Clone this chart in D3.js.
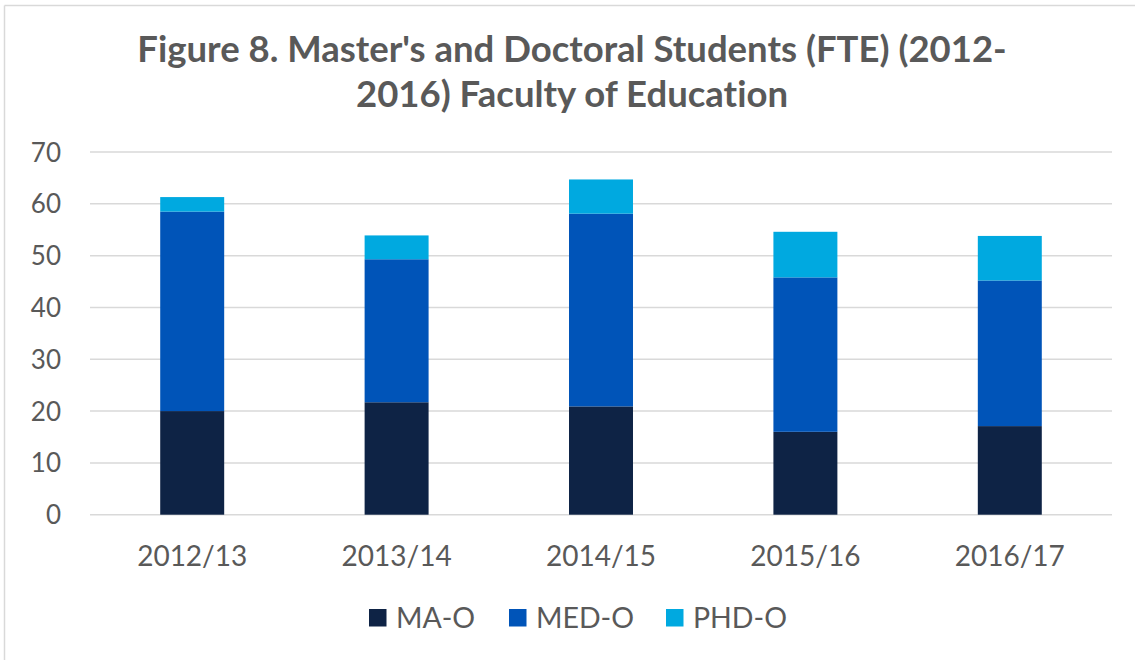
<!DOCTYPE html>
<html>
<head>
<meta charset="utf-8">
<script src="https://cdn.jsdelivr.net/npm/d3@7"></script>
<style>
  html, body { margin: 0; padding: 0; background: #fff; }
  svg { display: block; }
  text { font-family: Lato, "Open Sans", sans-serif; fill: #595959; font-variant-ligatures: none; font-feature-settings: "liga" 0, "clig" 0; }
</style>
</head>
<body>
<svg id="chart" width="1135" height="660"></svg>
<script>
const categories = ["2012/13", "2013/14", "2014/15", "2015/16", "2016/17"];
const seriesNames = ["MA-O", "MED-O", "PHD-O"];
const maValues  = [20.0, 21.7, 20.9, 16.0, 17.1];
const medValues = [38.5, 27.6, 37.2, 29.8, 28.1];
const phdValues = [2.8, 4.6, 6.6, 8.8, 8.6];
const yTicks = [0, 10, 20, 30, 40, 50, 60, 70];
const titleLines = ["Figure 8. Master's and Doctoral Students (FTE) (2012-", "2016) Faculty of Education"];
const colors = ["#0E2345", "#0054B8", "#00A9E0"];

const svg = d3.select("#chart");

// chart border (partially visible)
svg.append("line").attr("x1", 4.5).attr("x2", 1135).attr("y1", 5.5).attr("y2", 5.5)
  .attr("stroke", "#D9D9D9").attr("stroke-width", 1.5);
svg.append("line").attr("x1", 4.5).attr("x2", 4.5).attr("y1", 5.5).attr("y2", 660)
  .attr("stroke", "#D9D9D9").attr("stroke-width", 1.5);

// title
svg.append("text").attr("x", 572).attr("y", 62).attr("text-anchor", "middle")
  .attr("font-size", 36.5).attr("font-weight", 700).text(titleLines[0]);
svg.append("text").attr("x", 572).attr("y", 107).attr("text-anchor", "middle")
  .attr("font-size", 36.5).attr("font-weight", 700).text(titleLines[1]);

const x = d3.scaleBand().domain(categories).range([90, 1112])
  .paddingInner(0.687).paddingOuter(0.687 / 2);
const y = d3.scaleLinear().domain([0, 70]).range([514.7, 152]);

// gridlines
svg.append("g").selectAll("line").data(yTicks).join("line")
  .attr("x1", 90).attr("x2", 1112)
  .attr("y1", d => y(d)).attr("y2", d => y(d))
  .attr("stroke", "#D9D9D9").attr("stroke-width", 1.5);

// y axis labels
const yAxis = d3.axisLeft(y).tickValues(yTicks).tickSize(0).tickPadding(0);
const yg = svg.append("g").attr("transform", "translate(61,0)").call(yAxis);
yg.select(".domain").remove();
yg.selectAll("text").attr("font-size", 26).attr("fill", "#595959")
  .style("font-family", "Lato, 'Open Sans', sans-serif").attr("dy", "0.35em");

// stacked data
const rows = categories.map((c, i) => ({ cat: c, "MA-O": maValues[i], "MED-O": medValues[i], "PHD-O": phdValues[i] }));
const stack = d3.stack().keys(seriesNames)(rows);

svg.append("g").selectAll("g").data(stack).join("g")
  .attr("fill", (d, i) => colors[i])
  .selectAll("rect").data(d => d).join("rect")
  .attr("x", d => x(d.data.cat))
  .attr("width", x.bandwidth())
  .attr("y", d => y(d[1]))
  .attr("height", d => y(d[0]) - y(d[1]));

// x axis labels
const xAxis = d3.axisBottom(x).tickSize(0).tickPadding(0);
const xg = svg.append("g").attr("transform", "translate(0,566)").call(xAxis);
xg.select(".domain").remove();
xg.selectAll("text").attr("font-size", 28).attr("fill", "#595959").attr("dy", 0)
  .style("font-family", "Lato, 'Open Sans', sans-serif");

// legend
const legendX = [369, 509, 666];
const lg = svg.append("g").selectAll("g").data(seriesNames).join("g")
  .attr("transform", (d, i) => `translate(${legendX[i]},0)`);
lg.append("rect").attr("x", 0).attr("y", 609).attr("width", 17.5).attr("height", 17.5)
  .attr("fill", (d, i) => colors[i]);
lg.append("text").attr("x", 27).attr("y", 627.5).attr("font-size", 28.5).text(d => d);
</script>
</body>
</html>
